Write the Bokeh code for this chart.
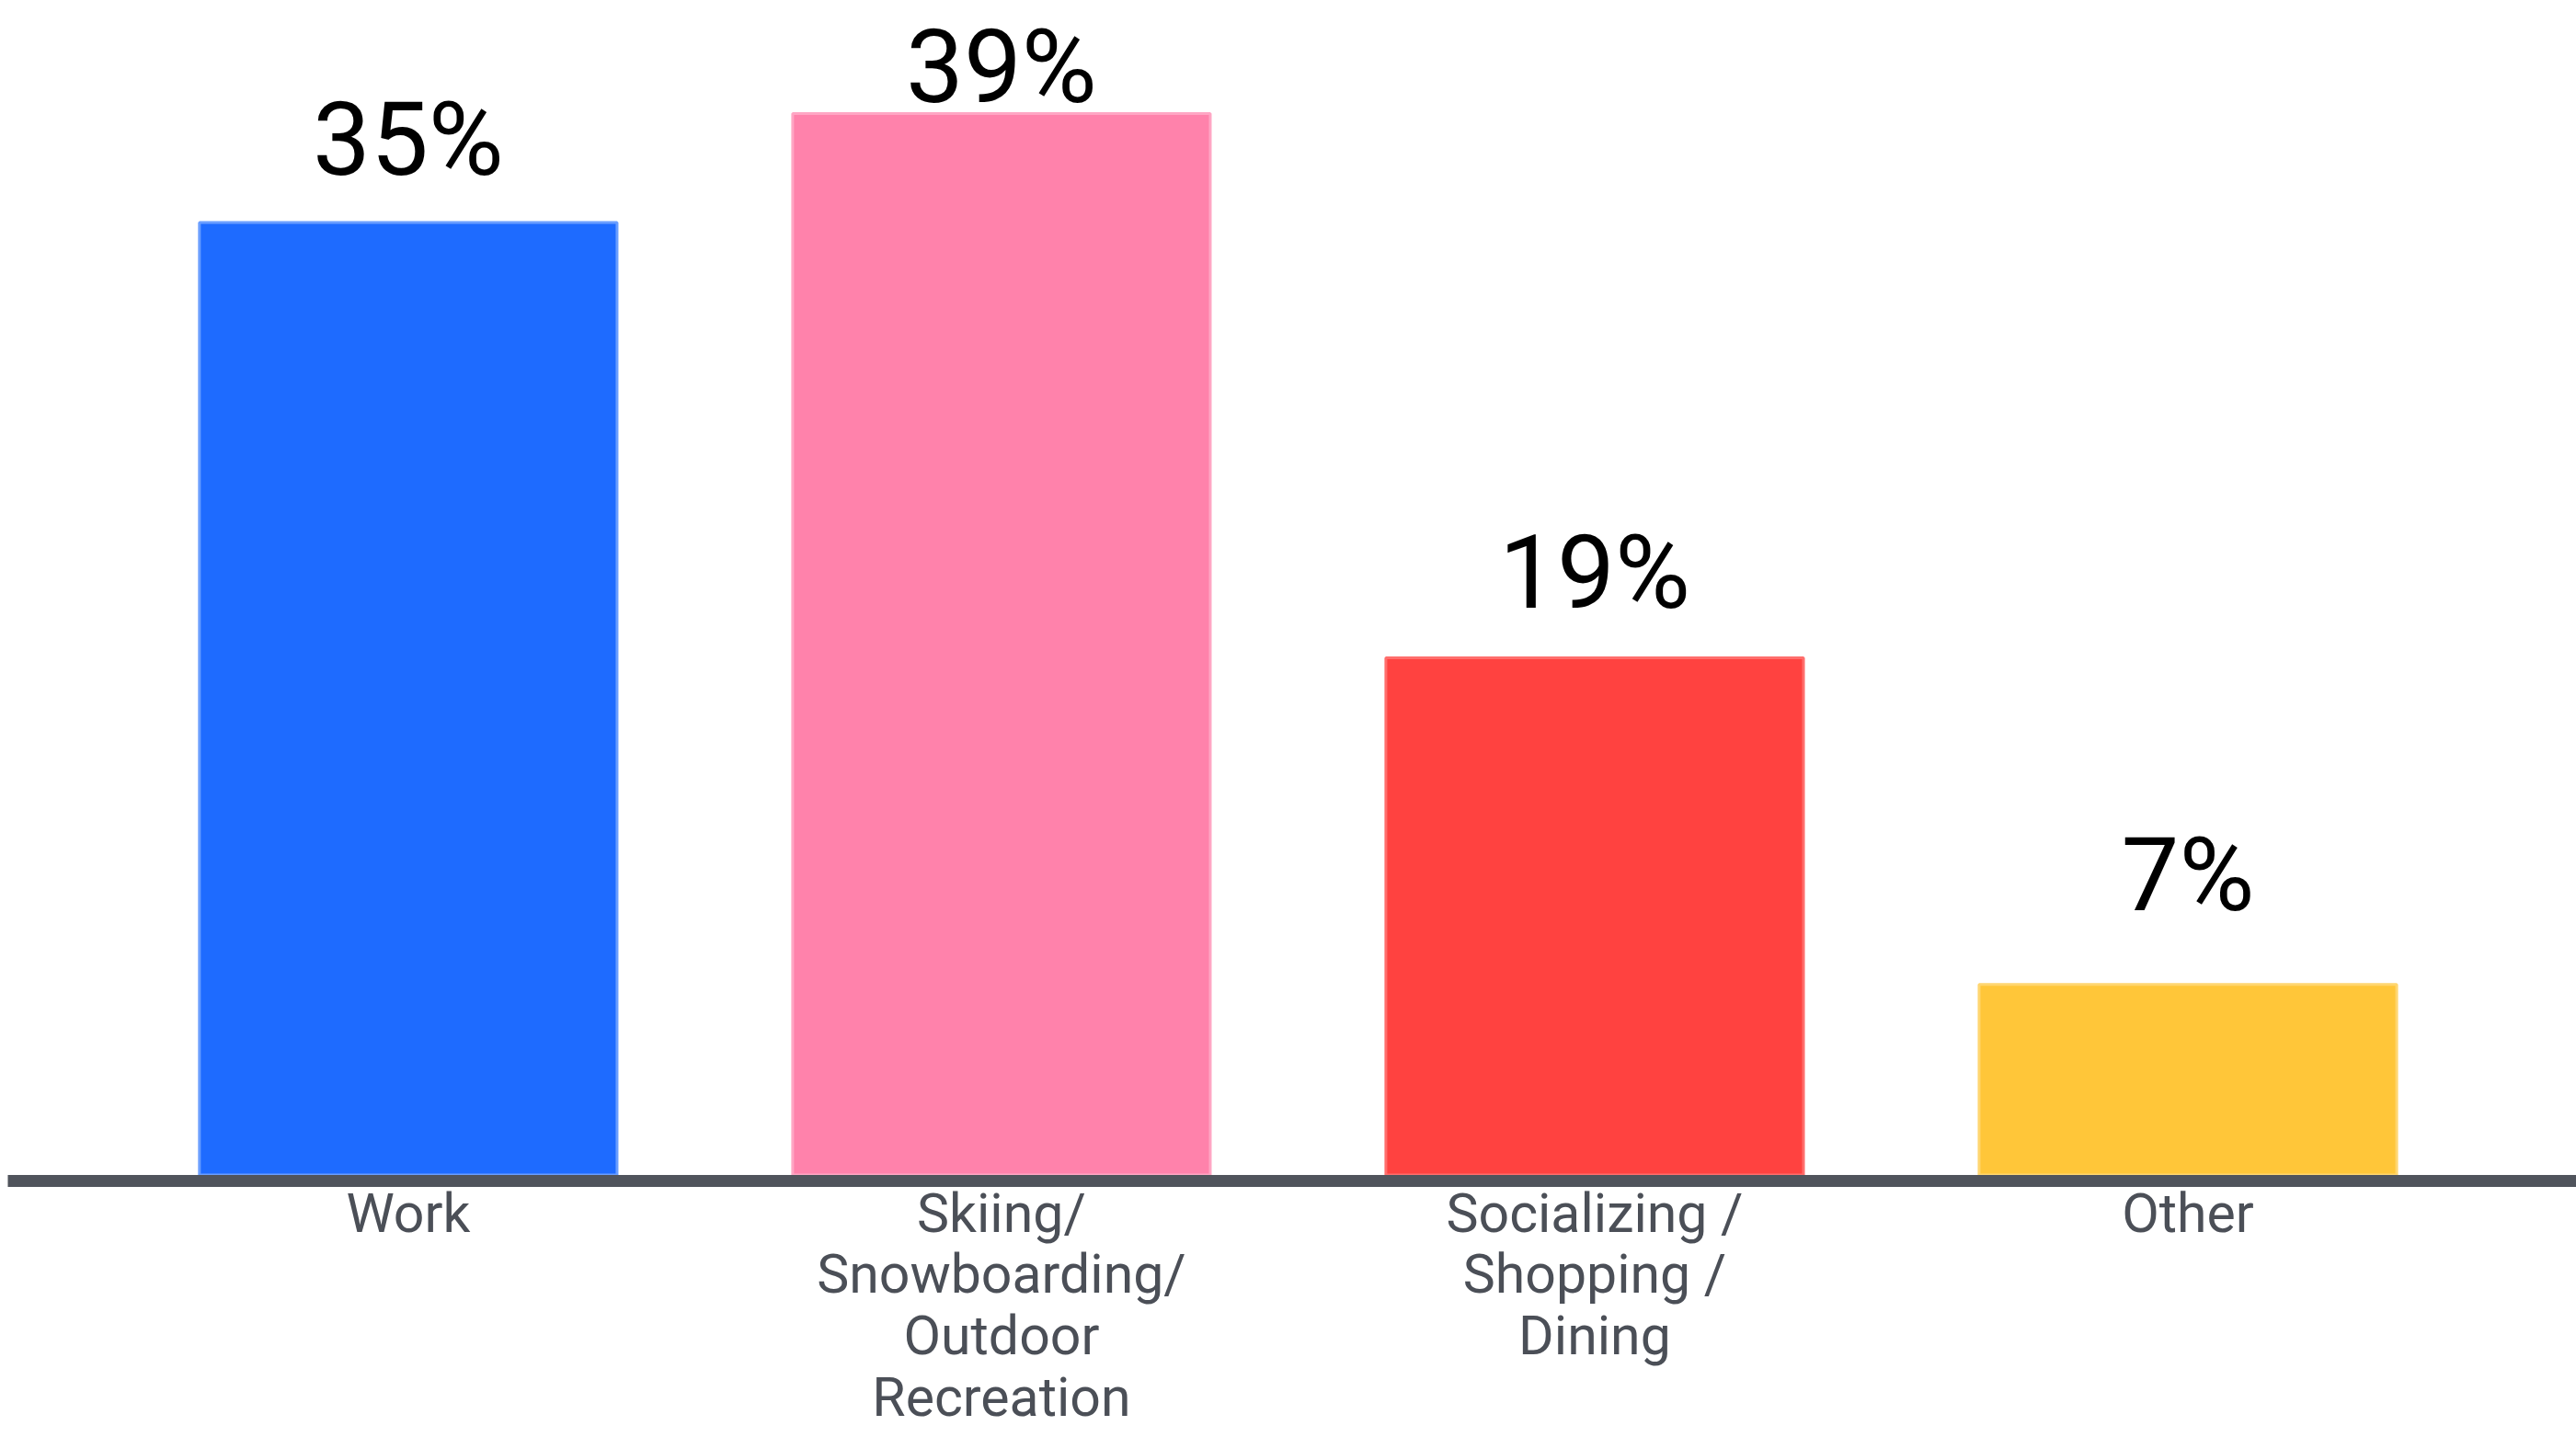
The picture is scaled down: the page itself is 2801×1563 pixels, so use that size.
from bokeh.plotting import figure
from bokeh.models import Range1d, FixedTicker, ColumnDataSource
from bokeh.embed import file_html
from bokeh.resources import INLINE
from bokeh.core.properties import value

# ---- data ----
categories = ["Work", "Skiing/Snowboarding/Outdoor Recreation",
              "Socializing / Shopping / Dining", "Other"]
tick_labels = ["Work", "Skiing/\nSnowboarding/\nOutdoor\nRecreation",
               "Socializing /\nShopping /\nDining", "Other"]
shares = [35, 39, 19, 7]
value_labels = ["35%", "39%", "19%", "7%"]

# ---- styles ----
bar_colors = ["#1E6BFF", "#FF82AB", "#FF4240", "#FFC639"]
edge_colors = ["#6A9EFF", "#FFA6C4", "#FF6E6C", "#FFD670"]
label_lift_px = [45, 5, 47, 73]
TEXT_SHIFT_PX = 46  # renderer places the glyph lower than the data y

PX_PER_UNIT = 29.6
FRAME_H = 1284
y_start = -6.5 / PX_PER_UNIT
y_end = y_start + FRAME_H / PX_PER_UNIT

x = list(range(len(categories)))
label_y = [s + (l + TEXT_SHIFT_PX) / PX_PER_UNIT for s, l in zip(shares, label_lift_px)]
src = ColumnDataSource(dict(x=x, top=shares, color=bar_colors, edge=edge_colors,
                            label=value_labels, ly=label_y))

p = figure(width=2801, height=1563, output_backend="svg", toolbar_location=None,
           x_range=Range1d(-0.675, 3.655), y_range=Range1d(y_start, y_end),
           min_border_left=8, min_border_right=0, min_border_top=0,
           min_border_bottom=1563 - FRAME_H)
p.background_fill_color = "white"
p.border_fill_color = "white"
p.outline_line_color = None
p.grid.visible = False
p.yaxis.visible = False

p.vbar(x="x", top="top", bottom=0, width=0.704, fill_color="color",
       line_color="edge", line_width=3, source=src)

p.text(x="x", y="ly", text="label", source=src,
       text_align="center", text_baseline="alphabetic",
       text_font=value("Roboto"), text_font_size="112px", text_color="#000000")

ax = p.xaxis[0]
ax.ticker = FixedTicker(ticks=x)
ax.major_label_overrides = {i: t for i, t in zip(x, tick_labels)}
ax.axis_line_color = "#50545C"
ax.axis_line_width = 13
ax.major_tick_line_color = None
ax.minor_tick_line_color = None
ax.major_tick_out = 0
ax.major_tick_in = 0
ax.major_label_standoff = 0
ax.major_label_text_font = "Roboto"
ax.major_label_text_font_size = "59px"
ax.major_label_text_color = "#4B4F57"
ax.major_label_text_line_height = 0.97

open("out.html", "w").write(file_html(p, INLINE))
